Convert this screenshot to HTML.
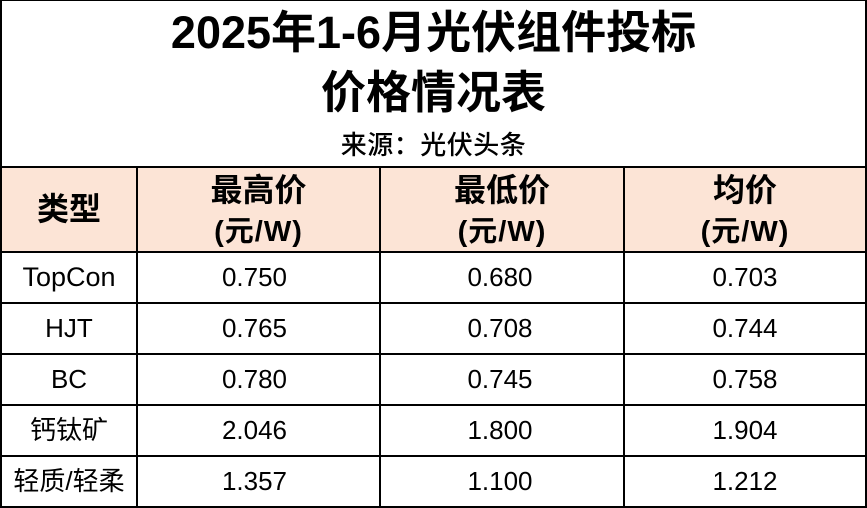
<!DOCTYPE html>
<html>
<head>
<meta charset="utf-8">
<style>
html,body{margin:0;padding:0;background:#fff;}
body{width:867px;height:508px;position:relative;overflow:hidden;font-family:"Liberation Sans","Noto Sans CJK SC",sans-serif;color:#000;}
.l{position:absolute;background:#000;}
.t{position:absolute;text-align:center;white-space:nowrap;}
.hd{font-weight:bold;}
.d{font-size:26px;height:40px;line-height:40px;}
.u{letter-spacing:1px;}
</style>
</head>
<body>
<!-- header fill -->
<div style="position:absolute;left:2px;top:168px;width:863px;height:83px;background:#FCE4D6;"></div>

<!-- outer border -->
<div class="l" style="left:0;top:0;width:867px;height:1px;"></div>
<div class="l" style="left:0;top:0;width:2px;height:508px;"></div>
<div class="l" style="left:865px;top:0;width:2px;height:508px;"></div>
<div class="l" style="left:0;top:506px;width:867px;height:2px;"></div>

<!-- horizontal lines -->
<div class="l" style="left:0;top:166px;width:867px;height:2px;"></div>
<div class="l" style="left:0;top:251px;width:867px;height:2px;"></div>
<div class="l" style="left:0;top:302px;width:867px;height:2px;"></div>
<div class="l" style="left:0;top:353px;width:867px;height:2px;"></div>
<div class="l" style="left:0;top:404px;width:867px;height:2px;"></div>
<div class="l" style="left:0;top:455px;width:867px;height:2px;"></div>

<!-- vertical lines -->
<div class="l" style="left:136px;top:166px;width:2px;height:342px;"></div>
<div class="l" style="left:379px;top:166px;width:2px;height:342px;"></div>
<div class="l" style="left:623px;top:166px;width:2px;height:342px;"></div>

<!-- title -->
<div class="t hd" style="left:0;width:867px;top:8px;height:50px;line-height:50px;font-size:45px;">2025年1-6月光伏组件投标</div>
<div class="t hd" style="left:0;width:867px;top:68px;height:50px;line-height:50px;font-size:45px;">价格情况表</div>
<div class="t" style="left:0;width:867px;top:128px;height:34px;line-height:34px;font-size:26px;font-weight:500;letter-spacing:0.5px;">来源：光伏头条</div>

<!-- header -->
<div class="t hd" style="left:2px;width:134px;top:191px;height:36px;line-height:36px;font-size:32px;">类型</div>

<div class="t hd" style="left:138px;width:241px;top:172px;height:36px;line-height:36px;font-size:32px;">最高价</div>
<div class="t hd u" style="left:138px;width:241px;top:216px;height:32px;line-height:32px;font-size:29px;">(元/W)</div>

<div class="t hd" style="left:381px;width:242px;top:172px;height:36px;line-height:36px;font-size:32px;">最低价</div>
<div class="t hd u" style="left:381px;width:242px;top:216px;height:32px;line-height:32px;font-size:29px;">(元/W)</div>

<div class="t hd" style="left:625px;width:240px;top:172px;height:36px;line-height:36px;font-size:32px;">均价</div>
<div class="t hd u" style="left:625px;width:240px;top:216px;height:32px;line-height:32px;font-size:29px;">(元/W)</div>

<!-- rows -->
<div class="t d" style="left:2px;width:134px;top:257px;font-size:27px;">TopCon</div>
<div class="t d" style="left:134px;width:241px;top:257px;">0.750</div>
<div class="t d" style="left:381px;width:238px;top:257px;">0.680</div>
<div class="t d" style="left:625px;width:240px;top:257px;">0.703</div>

<div class="t d" style="left:2px;width:134px;top:308px;">HJT</div>
<div class="t d" style="left:134px;width:241px;top:308px;">0.765</div>
<div class="t d" style="left:381px;width:238px;top:308px;">0.708</div>
<div class="t d" style="left:625px;width:240px;top:308px;">0.744</div>

<div class="t d" style="left:2px;width:134px;top:359px;">BC</div>
<div class="t d" style="left:134px;width:241px;top:359px;">0.780</div>
<div class="t d" style="left:381px;width:238px;top:359px;">0.745</div>
<div class="t d" style="left:625px;width:240px;top:359px;">0.758</div>

<div class="t d" style="left:2px;width:134px;top:410px;">钙钛矿</div>
<div class="t d" style="left:134px;width:241px;top:410px;">2.046</div>
<div class="t d" style="left:381px;width:238px;top:410px;">1.800</div>
<div class="t d" style="left:625px;width:240px;top:410px;">1.904</div>

<div class="t d" style="left:2px;width:134px;top:461px;">轻质/轻柔</div>
<div class="t d" style="left:134px;width:241px;top:461px;">1.357</div>
<div class="t d" style="left:381px;width:238px;top:461px;">1.100</div>
<div class="t d" style="left:625px;width:240px;top:461px;">1.212</div>
</body>
</html>
